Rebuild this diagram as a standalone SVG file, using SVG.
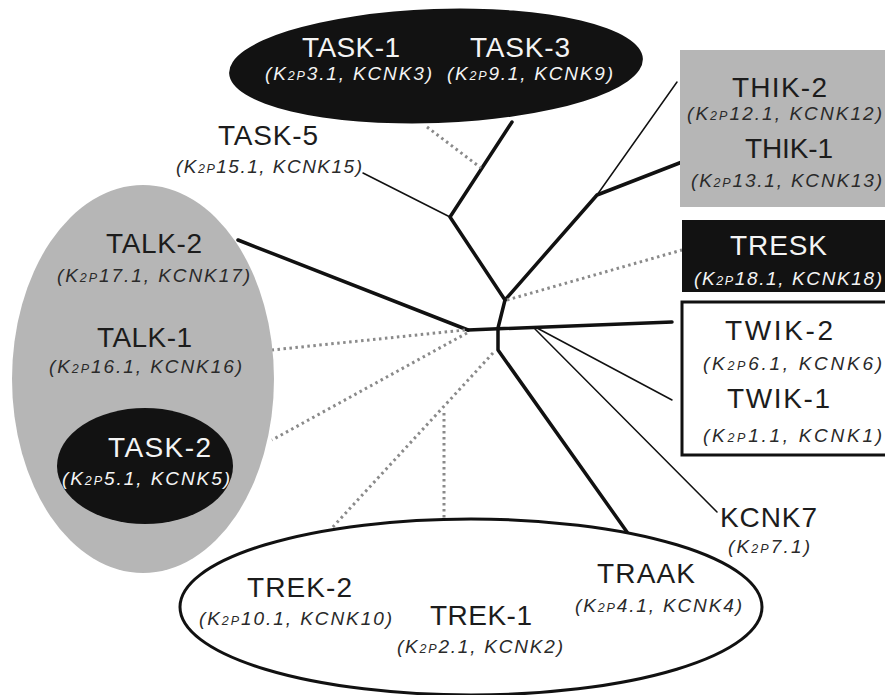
<svg xmlns="http://www.w3.org/2000/svg" width="885" height="695" viewBox="0 0 885 695">
  <style>
    .name { font-family: "Liberation Sans", Arial, sans-serif; font-size: 28px; fill: #1c1c1c; }
    .sub { font-family: "Liberation Sans", Arial, sans-serif; font-size: 19px; font-style: italic; fill: #2a2a2a; }
    .sm { font-size: 12.5px; }
    .inv { fill: #f4f4f4; }
    .thick { stroke: #111; stroke-width: 3.5; fill: none; stroke-linecap: round; stroke-linejoin: round; }
    .thin { stroke: #111; stroke-width: 1.5; fill: none; stroke-linecap: round; }
    .dot { stroke: #8a8a8a; stroke-width: 3; fill: none; stroke-dasharray: 2.5 3.5; }
    .dark { fill: #121212; }
    .grey { fill: #b6b6b6; }
  </style>
  <rect width="885" height="695" fill="#fff"/>

  <!-- tree branches -->
  <g id="connectors">
    <polyline class="thick" points="512,122 450,217 505,300 597,195 682,162"/>
    <polyline class="thick" points="505,300 498,328 498,350 627,532"/>
    <line class="thick" x1="238" y1="240" x2="468" y2="330"/>
    <line class="thick" x1="468" y1="330" x2="672" y2="322"/>
    <line class="thin" x1="363" y1="173" x2="450" y2="217"/>
    <line class="thin" x1="597" y1="195" x2="677" y2="82"/>
    <line class="thin" x1="537" y1="328" x2="672" y2="400"/>
    <line class="thin" x1="535" y1="329" x2="717" y2="512"/>
    <line class="dot" x1="427" y1="127" x2="481" y2="168"/>
    <line class="dot" x1="507" y1="300" x2="682" y2="250"/>
    <line class="dot" x1="465" y1="330" x2="272" y2="350"/>
    <line class="dot" x1="467" y1="333" x2="272" y2="440"/>
    <line class="dot" x1="493" y1="353" x2="331" y2="529"/>
    <line class="dot" x1="444" y1="413" x2="444" y2="519"/>
  </g>

  <!-- TASK-1 / TASK-3 -->
  <g id="task1-task3">
    <ellipse class="dark" cx="436" cy="66" rx="207" ry="57" transform="rotate(-2 436 66)"/>
    <text class="name inv" x="302" y="57" textLength="98">TASK-1</text>
    <text class="sub inv" x="265" y="80" textLength="167">(K<tspan class="sm">2P</tspan>3.1, KCNK3)</text>
    <text class="name inv" x="470" y="57" textLength="100">TASK-3</text>
    <text class="sub inv" x="447" y="80" textLength="166">(K<tspan class="sm">2P</tspan>9.1, KCNK9)</text>
  </g>

  <!-- TASK-5 -->
  <g id="task5">
    <text class="name" x="218" y="145" textLength="100">TASK-5</text>
    <text class="sub" x="176" y="173" textLength="186">(K<tspan class="sm">2P</tspan>15.1, KCNK15)</text>
  </g>

  <!-- THIK-2 / THIK-1 -->
  <g id="thik">
    <rect class="grey" x="680" y="50" width="215" height="157"/>
    <text class="name" x="732" y="97" textLength="95">THIK-2</text>
    <text class="sub" x="687" y="120" textLength="195">(K<tspan class="sm">2P</tspan>12.1, KCNK12)</text>
    <text class="name" x="745" y="158" textLength="88">THIK-1</text>
    <text class="sub" x="691" y="187" textLength="191">(K<tspan class="sm">2P</tspan>13.1, KCNK13)</text>
  </g>

  <!-- TRESK -->
  <g id="tresk">
    <rect class="dark" x="682" y="220" width="213" height="72"/>
    <text class="name inv" x="730" y="255" textLength="97">TRESK</text>
    <text class="sub inv" x="694" y="285" textLength="188">(K<tspan class="sm">2P</tspan>18.1, KCNK18)</text>
  </g>

  <!-- TWIK-2 / TWIK-1 -->
  <g id="twik">
    <rect x="682" y="302" width="215" height="153" fill="#fff" stroke="#111" stroke-width="3"/>
    <text class="name" x="725" y="340" textLength="108">TWIK-2</text>
    <text class="sub" x="703" y="370" textLength="179">(K<tspan class="sm">2P</tspan>6.1, KCNK6)</text>
    <text class="name" x="727" y="408" textLength="103">TWIK-1</text>
    <text class="sub" x="703" y="442" textLength="179">(K<tspan class="sm">2P</tspan>1.1, KCNK1)</text>
  </g>

  <!-- KCNK7 -->
  <g id="kcnk7">
    <text class="name" x="720" y="527" textLength="97">KCNK7</text>
    <text class="sub" x="728" y="553" textLength="82">(K<tspan class="sm">2P</tspan>7.1)</text>
  </g>

  <!-- TALK-2 / TALK-1 / TASK-2 -->
  <g id="talk">
    <ellipse class="grey" cx="143" cy="379" rx="131" ry="194"/>
    <text class="name" x="106" y="253" textLength="96">TALK-2</text>
    <text class="sub" x="57" y="282" textLength="193">(K<tspan class="sm">2P</tspan>17.1, KCNK17)</text>
    <text class="name" x="97" y="347" textLength="95">TALK-1</text>
    <text class="sub" x="49" y="373" textLength="193">(K<tspan class="sm">2P</tspan>16.1, KCNK16)</text>
  </g>
  <g id="task2">
    <ellipse class="dark" cx="145" cy="466" rx="88" ry="58"/>
    <text class="name inv" x="108" y="457" textLength="103">TASK-2</text>
    <text class="sub inv" x="62" y="485" textLength="168">(K<tspan class="sm">2P</tspan>5.1, KCNK5)</text>
  </g>

  <!-- TREK-2 / TREK-1 / TRAAK -->
  <g id="trek">
    <ellipse cx="471" cy="607" rx="291" ry="88" fill="#fff" stroke="#111" stroke-width="3"/>
    <text class="name" x="247" y="597" textLength="105">TREK-2</text>
    <text class="sub" x="199" y="625" textLength="193">(K<tspan class="sm">2P</tspan>10.1, KCNK10)</text>
    <text class="name" x="430" y="625" textLength="102">TREK-1</text>
    <text class="sub" x="397" y="653" textLength="166">(K<tspan class="sm">2P</tspan>2.1, KCNK2)</text>
    <text class="name" x="597" y="583" textLength="98">TRAAK</text>
    <text class="sub" x="575" y="612" textLength="167">(K<tspan class="sm">2P</tspan>4.1, KCNK4)</text>
  </g>
</svg>
